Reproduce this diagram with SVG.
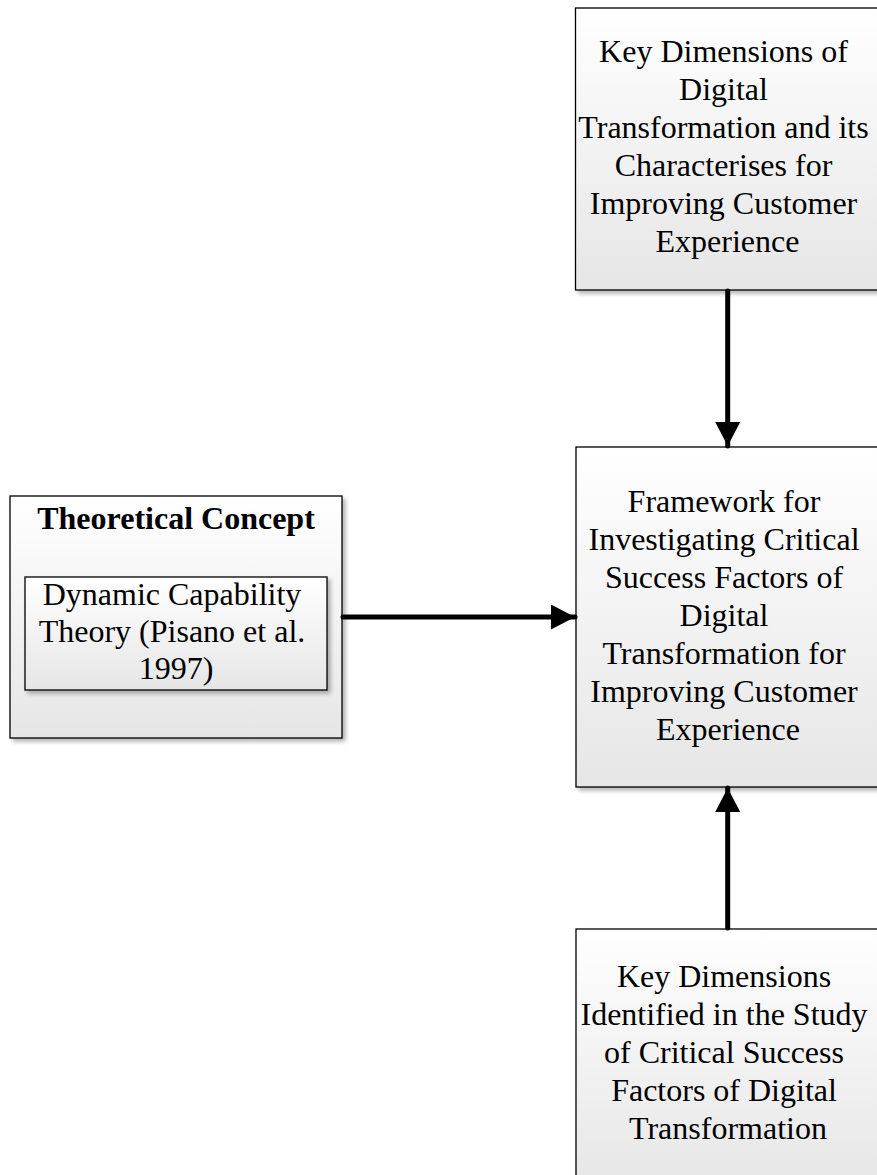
<svg xmlns="http://www.w3.org/2000/svg" width="877" height="1175" viewBox="0 0 877 1175">
  <defs>
    <linearGradient id="boxFill" x1="0" y1="0" x2="0" y2="1">
      <stop offset="0" stop-color="#ffffff"/>
      <stop offset="1" stop-color="#e6e6e6"/>
    </linearGradient>
    <filter id="shadow" x="-10%" y="-10%" width="125%" height="125%">
      <feGaussianBlur in="SourceAlpha" stdDeviation="2"/>
      <feOffset dx="3" dy="3" result="blur"/>
      <feComponentTransfer><feFuncA type="linear" slope="0.3"/></feComponentTransfer>
      <feMerge><feMergeNode/><feMergeNode in="SourceGraphic"/></feMerge>
    </filter>
    <marker id="arrow" viewBox="0 0 24 25" refX="24" refY="12.5" markerWidth="24" markerHeight="25" markerUnits="userSpaceOnUse" orient="auto">
      <path d="M0,0 L24,12.5 L0,25 Z" fill="#000"/>
    </marker>
  </defs>
  <style>
    .box { fill: url(#boxFill); stroke: #000; stroke-width: 1.3; filter: url(#shadow); }
    .label { font-family: "Liberation Serif", "Times New Roman", serif; font-size: 32px; fill: #000; text-anchor: middle; }
    .title { font-weight: bold; }
    .link { stroke: #000; stroke-width: 5; fill: none; stroke-linecap: round; marker-end: url(#arrow); }
  </style>

  <rect width="877" height="1175" fill="#ffffff"/>

  <g id="node-dimensions">
    <rect class="box" x="575.5" y="8" width="304" height="282"/>
    <text class="label">
      <tspan x="727.5" y="62">Key Dimensions of</tspan>
      <tspan x="727.5" y="100">Digital</tspan>
      <tspan x="727.5" y="138">Transformation and its</tspan>
      <tspan x="727.5" y="176">Characterises for</tspan>
      <tspan x="727.5" y="214">Improving Customer</tspan>
      <tspan x="727.5" y="252">Experience</tspan>
    </text>
  </g>

  <g id="node-framework">
    <rect class="box" x="576" y="447" width="304" height="340"/>
    <text class="label">
      <tspan x="728" y="512">Framework for</tspan>
      <tspan x="728" y="550">Investigating Critical</tspan>
      <tspan x="728" y="588">Success Factors of</tspan>
      <tspan x="728" y="626">Digital</tspan>
      <tspan x="728" y="664">Transformation for</tspan>
      <tspan x="728" y="702">Improving Customer</tspan>
      <tspan x="728" y="740">Experience</tspan>
    </text>
  </g>

  <g id="node-csf">
    <rect class="box" x="576" y="929" width="304" height="260"/>
    <text class="label">
      <tspan x="728" y="987">Key Dimensions</tspan>
      <tspan x="728" y="1025">Identified in the Study</tspan>
      <tspan x="728" y="1063">of Critical Success</tspan>
      <tspan x="728" y="1101">Factors of Digital</tspan>
      <tspan x="728" y="1139">Transformation</tspan>
    </text>
  </g>

  <g id="node-theory">
    <rect class="box" x="10" y="496" width="332" height="242"/>
    <text class="label title" x="176" y="529">Theoretical Concept</text>
    <g id="node-dct">
      <rect class="box" x="25" y="577" width="302" height="113"/>
      <text class="label">
        <tspan x="176" y="605">Dynamic Capability</tspan>
        <tspan x="176" y="642">Theory (Pisano et al.</tspan>
        <tspan x="176" y="679">1997)</tspan>
      </text>
    </g>
  </g>

  <g id="connectors">
    <line class="link" x1="727.7" y1="291" x2="727.7" y2="446"/>
    <line class="link" x1="727.7" y1="928" x2="727.7" y2="788"/>
    <line class="link" x1="343" y1="617" x2="575" y2="617"/>
  </g>
</svg>
